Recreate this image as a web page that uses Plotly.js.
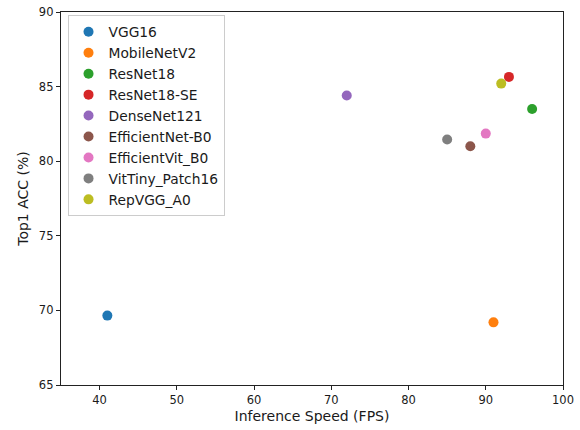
<!DOCTYPE html>
<html><head><meta charset="utf-8">
<script src="https://cdn.plot.ly/plotly-3.0.1.min.js"></script>
<style>html,body{margin:0;padding:0;background:#fff}#chart{width:580px;height:430px}</style>
</head><body><div id="chart"></div>
<script>
const models = ["VGG16","MobileNetV2","ResNet18","ResNet18-SE","DenseNet121","EfficientNet-B0","EfficientVit_B0","VitTiny_Patch16","RepVGG_A0"];
const fps = [41, 91, 96, 93, 72, 88, 90, 85, 92];
const acc = [69.65, 69.2, 83.5, 85.65, 84.4, 81.0, 81.85, 81.45, 85.2];
const colors = ["#1f77b4","#ff7f0e","#2ca02c","#d62728","#9467bd","#8c564b","#e377c2","#7f7f7f","#bcbd22"];
const xTicks = [40,50,60,70,80,90,100];
const yTicks = [65,70,75,80,85,90];

const traces = models.map((m,i)=>({
  type:'scatter', mode:'markers', name:m,
  x:[fps[i]], y:[acc[i]],
  marker:{color:colors[i], size:10}
}));
const axisCommon = {
  showgrid:false, zeroline:false, showline:true, linecolor:'#222', linewidth:1.2,
  mirror:true, ticks:'outside', ticklen:4, tickcolor:'#222',
  tickfont:{family:'DejaVu Sans', size:11.5, color:'#1a1a1a'}
};
const layout = {
  width:580, height:430,
  margin:{l:61, r:17, t:12, b:45},
  paper_bgcolor:'#fff', plot_bgcolor:'#fff',
  font:{family:'DejaVu Sans', color:'#1a1a1a'},
  showlegend:true,
  legend:{x:0.013, y:0.991, xanchor:'left', yanchor:'top',
    bordercolor:'#cccccc', borderwidth:1, bgcolor:'rgba(255,255,255,0.8)',
    font:{family:'DejaVu Sans', size:13.8, color:'#1a1a1a'}},
  xaxis:Object.assign({}, axisCommon, {range:[35,100], tickvals:xTicks, ticktext:xTicks.map(String),
    title:{text:'Inference Speed (FPS)', font:{family:'DejaVu Sans', size:14, color:'#1a1a1a'}, standoff:5}}),
  yaxis:Object.assign({}, axisCommon, {range:[65,90], tickvals:yTicks, ticktext:yTicks.map(String),
    title:{text:'Top1 ACC (%)', font:{family:'DejaVu Sans', size:14, color:'#1a1a1a'}, standoff:7}})
};
Plotly.newPlot('chart', traces, layout, {staticPlot:true, displayModeBar:false});
</script></body></html>
